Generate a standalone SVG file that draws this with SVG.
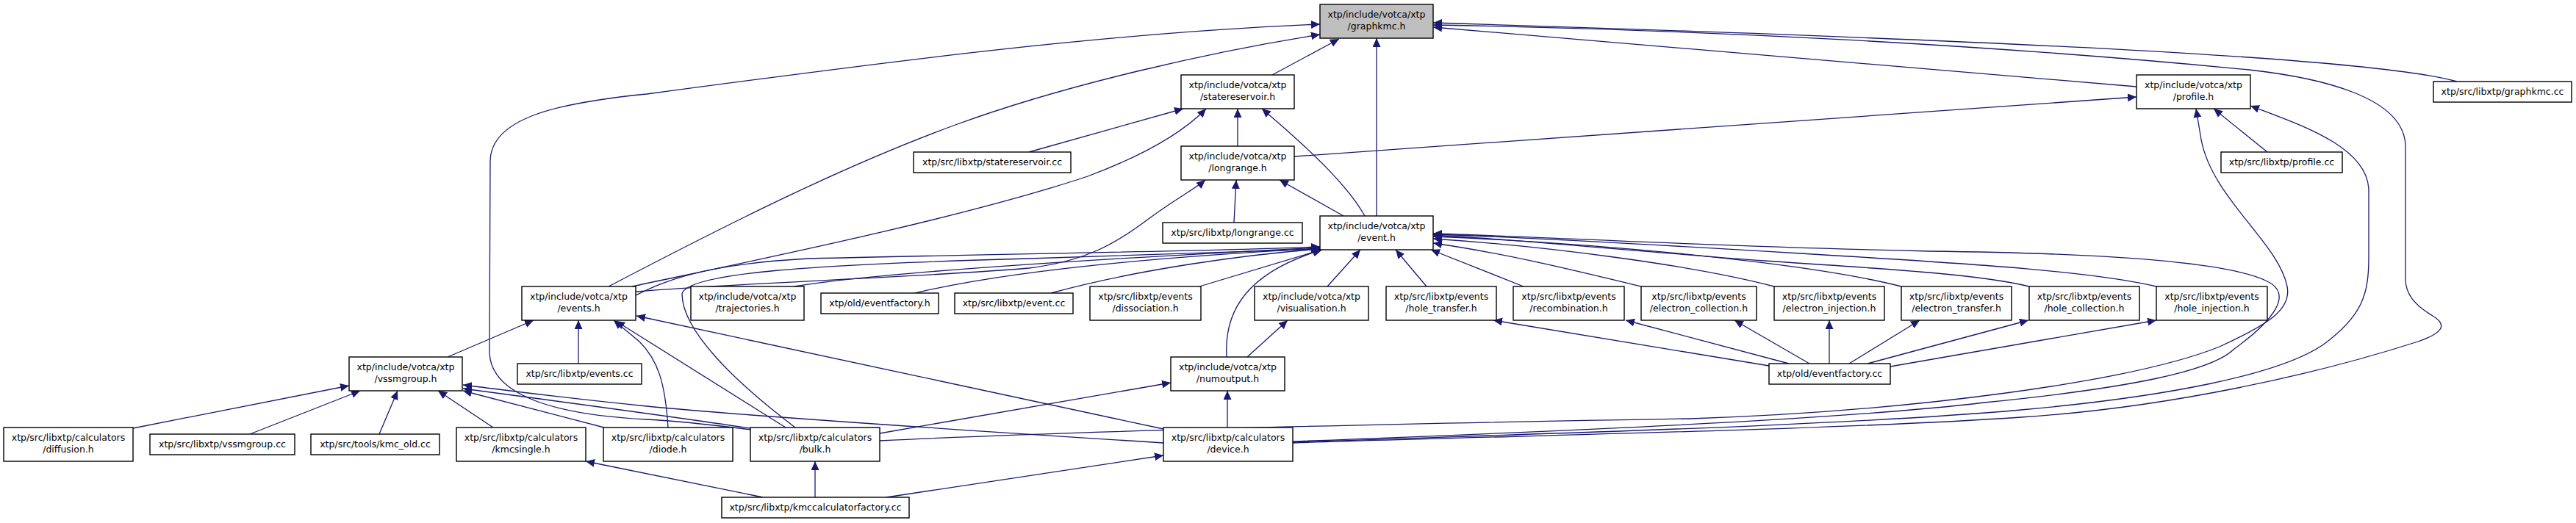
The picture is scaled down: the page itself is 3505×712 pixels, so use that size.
<svg xmlns="http://www.w3.org/2000/svg" width="3505" height="712" viewBox="0 0 3505 712">
<style>
.n rect{fill:#fff;stroke:#000;stroke-width:1.4}
.n.g rect{fill:#bfbfbf}
.n text{font-family:"DejaVu Sans","Liberation Sans",sans-serif;font-size:12.5px;text-anchor:middle;fill:#000}
#edges path{fill:none;stroke:#191970;stroke-width:1.3;marker-end:url(#ah)}
</style>
<defs>
<marker id="ah" viewBox="0 0 12 11" refX="12" refY="5.5" markerWidth="12" markerHeight="11" markerUnits="userSpaceOnUse" orient="auto"><path d="M0,0 L12,5.5 L0,11 z" fill="#191970"/></marker>
</defs>
<rect width="3505" height="712" fill="#fff"/>
<g id="edges">
<path d="M1731,102 L1822,53"/>
<path d="M828,390 C 1000,300 1150,225 1300,170 S 1650,70 1796,47"/>
<path d="M1022,585 C 950,576 900,572 880,571 C 760,565 668,540 666,480 L667,220 C 667,160 760,140 880,128 C 1200,85 1500,45 1796,33"/>
<path d="M1873,294 L1873,52"/>
<path d="M3343,111 C 3250,85 2900,60 1950,31"/>
<path d="M2907,118 L1950,37"/>
<path d="M1759,603 C 2100,592 2500,585 2750,568 C 2950,555 3150,510 3290,465 C 3325,453 3330,442 3310,430 C 3285,415 3273,400 3273,380 L3273,200 C 3273,130 3150,105 3060,95 C 2700,60 2300,40 1950,34"/>
<path d="M1759,602 C 2100,590 2500,580 2750,558 C 2950,540 3100,510 3160,470 C 3215,430 3223,400 3223,350 L3223,260 C 3223,200 3130,170 3062,144"/>
<path d="M1759,601 C 2100,588 2500,572 2700,548 C 2900,528 3010,505 3040,475 C 3095,435 3120,400 3085,383 C 3040,360 2900,345 2625,342 C 2300,335 2100,322 1950,318"/>
<path d="M1197,600 C 1500,585 2000,575 2300,570 C 2600,560 2900,520 3020,472 C 3090,440 3118,420 3112,390 C 3100,330 3010,270 2995,190 L2988,148"/>
<path d="M1400,207 L1610,148"/>
<path d="M1684,199 L1684,148"/>
<path d="M1857,294 C 1835,255 1790,210 1717,148"/>
<path d="M860,390 C 1000,360 1300,300 1480,240 C 1560,210 1610,180 1641,148"/>
<path d="M865,397 C 1000,385 1250,378 1400,365 C 1480,355 1520,330 1560,300 C 1600,270 1625,258 1640,245"/>
<path d="M1828,294 L1741,245"/>
<path d="M1679,303 L1682,245"/>
<path d="M1761,213 L2907,132"/>
<path d="M3085,207 L3012,148"/>
<path d="M865,402 C 900,385 950,360 1100,352 C 1400,345 1650,342 1796,336"/>
<path d="M1080,390 C 1200,370 1500,352 1796,337"/>
<path d="M1245,399 C 1400,362 1650,346 1796,338"/>
<path d="M1430,399 C 1550,366 1700,346 1796,339"/>
<path d="M1632,390 L1798,340"/>
<path d="M1082,582 C 1000,520 928,450 928,400 C 935,372 1100,360 1400,352 C 1600,346 1750,340 1797,339"/>
<path d="M1669,486 C 1665,420 1700,370 1799,340"/>
<path d="M1806,390 L1851,340"/>
<path d="M1941,390 L1899,340"/>
<path d="M2073,390 L1947,340"/>
<path d="M2233,390 C 2150,370 2050,345 1950,331"/>
<path d="M2414,390 C 2300,360 2100,335 1950,325"/>
<path d="M2587,390 C 2450,355 2150,330 1950,322"/>
<path d="M2761,390 C 2700,375 2600,368 2400,355 C 2200,340 2050,325 1950,320"/>
<path d="M2934,390 C 2850,370 2700,360 2450,345 C 2200,330 2050,322 1950,319"/>
<path d="M2407,498 L2032,436"/>
<path d="M2434,495 L2212,436"/>
<path d="M2462,495 L2360,436"/>
<path d="M2489,495 L2489,436"/>
<path d="M2516,495 L2612,436"/>
<path d="M2541,495 L2760,436"/>
<path d="M2572,499 L2934,436"/>
<path d="M1697,486 L1752,436"/>
<path d="M1670,582 L1670,532"/>
<path d="M1197,590 L1593,521"/>
<path d="M1583,584 L866,430"/>
<path d="M1583,603 C 1300,585 1000,565 880,553 C 750,540 680,530 630,524"/>
<path d="M1021,583 C 900,565 750,545 630,529"/>
<path d="M822,582 L630,532"/>
<path d="M181,583 L475,525"/>
<path d="M340,591 L490,532"/>
<path d="M516,591 L541,532"/>
<path d="M671,582 L596,532"/>
<path d="M609,486 L726,436"/>
<path d="M787,495 L787,436"/>
<path d="M909,582 C 905,520 895,490 870,465 L835,436"/>
<path d="M1069,582 L838,437"/>
<path d="M1109,677 L1109,628"/>
<path d="M1206,677 L1583,620"/>
<path d="M1038,677 L797,628"/>
</g>
<g id="n_graphkmc_h" class="n g"><rect x="1796" y="6" width="154" height="46"/><text x="1873" y="23.5">xtp/include/votca/xtp</text><text x="1873" y="40">/graphkmc.h</text></g>
<g id="n_statereservoir_h" class="n"><rect x="1607" y="102" width="154" height="46"/><text x="1684" y="119.5">xtp/include/votca/xtp</text><text x="1684" y="136">/statereservoir.h</text></g>
<g id="n_profile_h" class="n"><rect x="2907" y="102" width="155" height="46"/><text x="2984.5" y="119.5">xtp/include/votca/xtp</text><text x="2984.5" y="136">/profile.h</text></g>
<g id="n_graphkmc_cc" class="n"><rect x="3311" y="111" width="188" height="28"/><text x="3405" y="129">xtp/src/libxtp/graphkmc.cc</text></g>
<g id="n_statereservoir_cc" class="n"><rect x="1243" y="207" width="214" height="28"/><text x="1350" y="225">xtp/src/libxtp/statereservoir.cc</text></g>
<g id="n_longrange_h" class="n"><rect x="1607" y="199" width="154" height="46"/><text x="1684" y="216.5">xtp/include/votca/xtp</text><text x="1684" y="233">/longrange.h</text></g>
<g id="n_profile_cc" class="n"><rect x="3022" y="207" width="165" height="28"/><text x="3104.5" y="225">xtp/src/libxtp/profile.cc</text></g>
<g id="n_longrange_cc" class="n"><rect x="1582" y="303" width="190" height="28"/><text x="1677" y="321">xtp/src/libxtp/longrange.cc</text></g>
<g id="n_event_h" class="n"><rect x="1796" y="294" width="154" height="46"/><text x="1873" y="311.5">xtp/include/votca/xtp</text><text x="1873" y="328">/event.h</text></g>
<g id="n_events_h" class="n"><rect x="710" y="390" width="155" height="46"/><text x="787.5" y="407.5">xtp/include/votca/xtp</text><text x="787.5" y="424">/events.h</text></g>
<g id="n_trajectories_h" class="n"><rect x="940" y="390" width="154" height="46"/><text x="1017" y="407.5">xtp/include/votca/xtp</text><text x="1017" y="424">/trajectories.h</text></g>
<g id="n_eventfactory_h" class="n"><rect x="1117" y="399" width="160" height="28"/><text x="1197" y="417">xtp/old/eventfactory.h</text></g>
<g id="n_event_cc" class="n"><rect x="1299" y="399" width="161" height="28"/><text x="1379.5" y="417">xtp/src/libxtp/event.cc</text></g>
<g id="n_dissociation_h" class="n"><rect x="1483" y="390" width="151" height="46"/><text x="1558.5" y="407.5">xtp/src/libxtp/events</text><text x="1558.5" y="424">/dissociation.h</text></g>
<g id="n_visualisation_h" class="n"><rect x="1707" y="390" width="155" height="46"/><text x="1784.5" y="407.5">xtp/include/votca/xtp</text><text x="1784.5" y="424">/visualisation.h</text></g>
<g id="n_hole_transfer_h" class="n"><rect x="1886" y="390" width="150" height="46"/><text x="1961" y="407.5">xtp/src/libxtp/events</text><text x="1961" y="424">/hole_transfer.h</text></g>
<g id="n_recombination_h" class="n"><rect x="2059" y="390" width="151" height="46"/><text x="2134.5" y="407.5">xtp/src/libxtp/events</text><text x="2134.5" y="424">/recombination.h</text></g>
<g id="n_electron_collection_h" class="n"><rect x="2233" y="390" width="157" height="46"/><text x="2311.5" y="407.5">xtp/src/libxtp/events</text><text x="2311.5" y="424">/electron_collection.h</text></g>
<g id="n_electron_injection_h" class="n"><rect x="2414" y="390" width="150" height="46"/><text x="2489" y="407.5">xtp/src/libxtp/events</text><text x="2489" y="424">/electron_injection.h</text></g>
<g id="n_electron_transfer_h" class="n"><rect x="2587" y="390" width="150" height="46"/><text x="2662" y="407.5">xtp/src/libxtp/events</text><text x="2662" y="424">/electron_transfer.h</text></g>
<g id="n_hole_collection_h" class="n"><rect x="2761" y="390" width="150" height="46"/><text x="2836" y="407.5">xtp/src/libxtp/events</text><text x="2836" y="424">/hole_collection.h</text></g>
<g id="n_hole_injection_h" class="n"><rect x="2934" y="390" width="151" height="46"/><text x="3009.5" y="407.5">xtp/src/libxtp/events</text><text x="3009.5" y="424">/hole_injection.h</text></g>
<g id="n_vssmgroup_h" class="n"><rect x="475" y="486" width="154" height="46"/><text x="552" y="503.5">xtp/include/votca/xtp</text><text x="552" y="520">/vssmgroup.h</text></g>
<g id="n_events_cc" class="n"><rect x="704" y="495" width="169" height="28"/><text x="788.5" y="513">xtp/src/libxtp/events.cc</text></g>
<g id="n_numoutput_h" class="n"><rect x="1593" y="486" width="155" height="46"/><text x="1670.5" y="503.5">xtp/include/votca/xtp</text><text x="1670.5" y="520">/numoutput.h</text></g>
<g id="n_eventfactory_cc" class="n"><rect x="2407" y="495" width="165" height="28"/><text x="2489.5" y="513">xtp/old/eventfactory.cc</text></g>
<g id="n_diffusion_h" class="n"><rect x="5" y="582" width="176" height="46"/><text x="93" y="599.5">xtp/src/libxtp/calculators</text><text x="93" y="616">/diffusion.h</text></g>
<g id="n_vssmgroup_cc" class="n"><rect x="204" y="591" width="197" height="28"/><text x="302.5" y="609">xtp/src/libxtp/vssmgroup.cc</text></g>
<g id="n_kmc_old_cc" class="n"><rect x="423" y="591" width="175" height="28"/><text x="510.5" y="609">xtp/src/tools/kmc_old.cc</text></g>
<g id="n_kmcsingle_h" class="n"><rect x="621" y="582" width="176" height="46"/><text x="709" y="599.5">xtp/src/libxtp/calculators</text><text x="709" y="616">/kmcsingle.h</text></g>
<g id="n_diode_h" class="n"><rect x="821" y="582" width="176" height="46"/><text x="909" y="599.5">xtp/src/libxtp/calculators</text><text x="909" y="616">/diode.h</text></g>
<g id="n_bulk_h" class="n"><rect x="1021" y="582" width="176" height="46"/><text x="1109" y="599.5">xtp/src/libxtp/calculators</text><text x="1109" y="616">/bulk.h</text></g>
<g id="n_device_h" class="n"><rect x="1583" y="582" width="176" height="46"/><text x="1671" y="599.5">xtp/src/libxtp/calculators</text><text x="1671" y="616">/device.h</text></g>
<g id="n_kmccalculatorfactory_cc" class="n"><rect x="982" y="677" width="255" height="28"/><text x="1109.5" y="695">xtp/src/libxtp/kmccalculatorfactory.cc</text></g>
</svg>
